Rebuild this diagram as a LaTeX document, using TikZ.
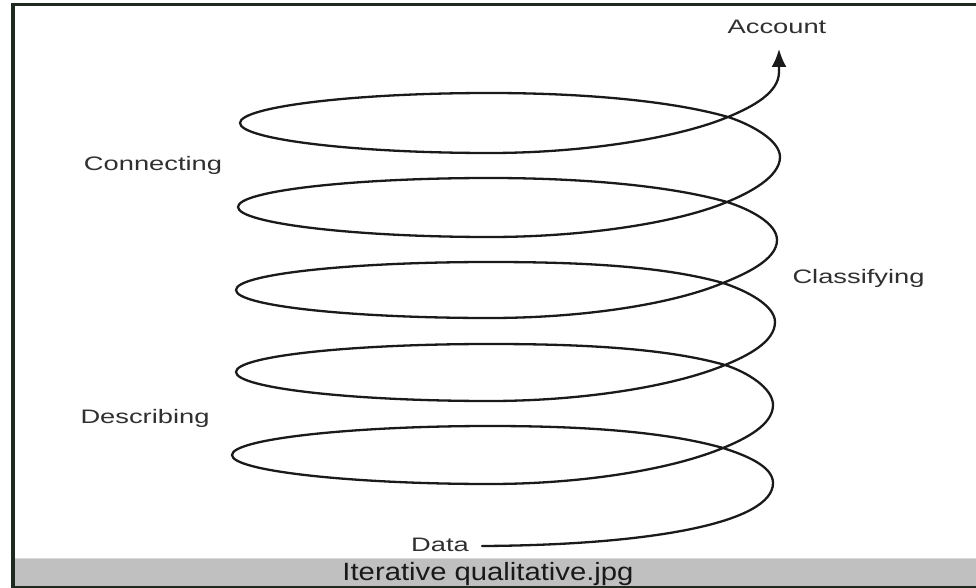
\documentclass[tikz,border=0pt]{standalone}
\usepackage{fontspec}
\setmainfont{Liberation Sans}
\usetikzlibrary{arrows.meta}

\definecolor{framedark}{HTML}{1E2A20}
\definecolor{barfill}{HTML}{C0C0C0}
\definecolor{barlight}{HTML}{D8D8D8}
\definecolor{inkline}{HTML}{1A1A1A}
\definecolor{labelink}{HTML}{303030}

\tikzset{
  spiral/.style={draw=inkline, line width=2.3pt, line cap=round, line join=round},
  lbl/.style={font=\fontsize{19.5}{22}\selectfont, text=labelink, inner sep=0pt,
              anchor=base, xscale=1.40},
  caption/.style={font=\fontsize{25}{28}\selectfont, text=black!90, inner sep=0pt,
              anchor=base, xscale=1.17},
}

\begin{document}
\begin{tikzpicture}[x=1pt, y=-1pt]
  % canvas and frame
  \fill[white] (0,0) rectangle (976,588);
  \useasboundingbox (0,0) rectangle (976,588);
  \fill[barfill] (15,558) rectangle (976,586);
  \fill[barlight] (15,557.5) rectangle (976,559);
  \fill[framedark] (11,3) rectangle (15,588);
  \fill[framedark] (11,3) rectangle (976,6);
  \fill[framedark] (11,586) rectangle (976,588);

  % key points of the spiral
  \coordinate (D)   at (482,546);
  \coordinate (R5)  at (773,483);
  \coordinate (C5)  at (723,448);
  \coordinate (T5)  at (490,426);
  \coordinate (L5)  at (232,455);
  \coordinate (B5)  at (490,484);
  \coordinate (R45) at (773,405);
  \coordinate (C4)  at (725,365);
  \coordinate (T4)  at (490,344);
  \coordinate (L4)  at (236,372);
  \coordinate (B4)  at (490,401);
  \coordinate (R34) at (775,322);
  \coordinate (C3)  at (723,283);
  \coordinate (T3)  at (490,262);
  \coordinate (L3)  at (236,290);
  \coordinate (B3)  at (490,318);
  \coordinate (R23) at (777,240);
  \coordinate (C2)  at (727,202);
  \coordinate (T2)  at (490,178);
  \coordinate (L2)  at (238,207);
  \coordinate (B2)  at (490,237);
  \coordinate (R12) at (780,157);
  \coordinate (C1)  at (728,117);
  \coordinate (T1)  at (490,93);
  \coordinate (L1)  at (240,123);
  \coordinate (B1)  at (490,153);
  \coordinate (V)   at (779,72);
  \coordinate (tip) at (779,49);

  % the spiral, from the data up to the account
  \draw[spiral, -{Latex[length=18pt, width=15pt]}]
    (D)   .. controls (655,545) and (773,522) .. (R5)
    .. controls (773,466) and (745,455) .. (C5)
    .. controls (660,430) and (570,426) .. (T5)
    .. controls (352,426) and (232,439) .. (L5)
    .. controls (232,471) and (352,484) .. (B5)
    .. controls (580,484) and (670,470) .. (C5)
    .. controls (745,439) and (773,425) .. (R45)
    .. controls (773,388) and (747,372) .. (C4)
    .. controls (662,347) and (570,344) .. (T4)
    .. controls (352,344) and (236,356) .. (L4)
    .. controls (236,388) and (352,401) .. (B4)
    .. controls (580,401) and (672,387) .. (C4)
    .. controls (747,356) and (775,342) .. (R34)
    .. controls (775,305) and (745,290) .. (C3)
    .. controls (660,265) and (570,262) .. (T3)
    .. controls (352,262) and (236,274) .. (L3)
    .. controls (236,306) and (352,318) .. (B3)
    .. controls (580,318) and (670,305) .. (C3)
    .. controls (745,274) and (777,260) .. (R23)
    .. controls (777,223) and (749,209) .. (C2)
    .. controls (664,184) and (570,178) .. (T2)
    .. controls (352,178) and (238,191) .. (L2)
    .. controls (238,223) and (352,237) .. (B2)
    .. controls (580,237) and (674,224) .. (C2)
    .. controls (749,193) and (780,177) .. (R12)
    .. controls (780,140) and (750,124) .. (C1)
    .. controls (665,99) and (570,93) .. (T1)
    .. controls (352,93) and (240,107) .. (L1)
    .. controls (240,139) and (352,153) .. (B1)
    .. controls (580,153) and (675,139) .. (C1)
    .. controls (752,107) and (779,93) .. (V)
    -- (tip);

  % labels
  \node[lbl] (account)     at (777,33.5)  {Account};
  \node[lbl] (connecting)  at (153,170.5) {Connecting};
  \node[lbl] (classifying) at (858.5,283.3) {Classifying};
  \node[lbl] (describing)  at (145,423.3) {Describing};
  \node[lbl] (data)        at (440,551)   {Data};
  \node[caption] (title)   at (488,580)   {Iterative qualitative.jpg};
\end{tikzpicture}
\end{document}
